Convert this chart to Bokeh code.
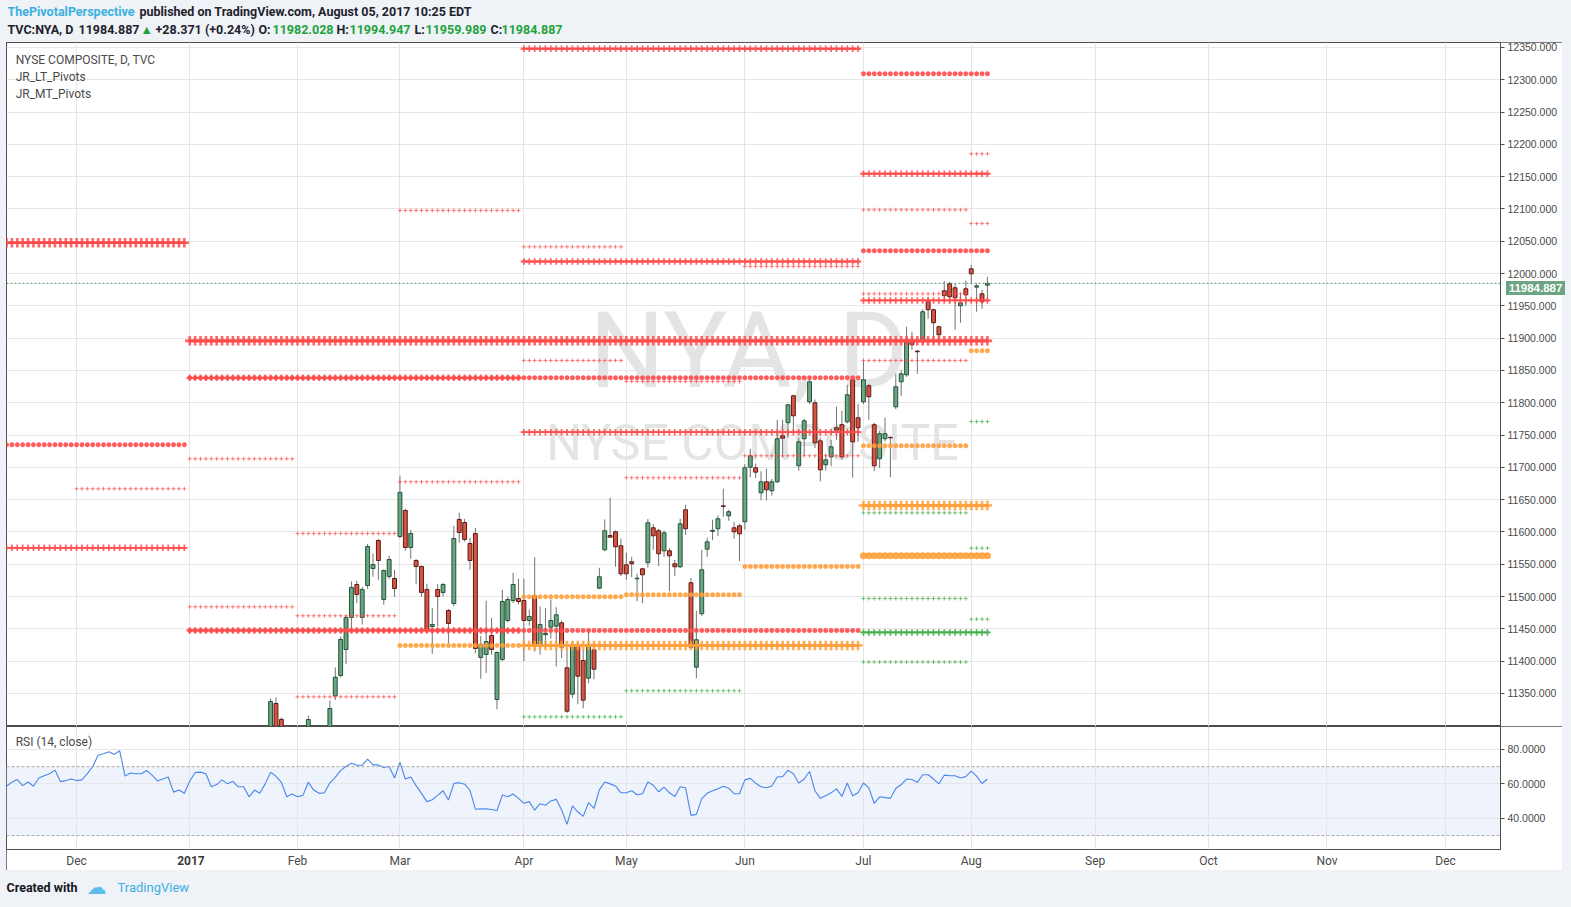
import numpy as np
from bokeh.plotting import figure
from bokeh.models import (Range1d, ColumnDataSource, FixedTicker, Grid, Label, Span,
                          BoxAnnotation, PrintfTickFormatter, Spacer, Div)
from bokeh.layouts import column, row
from bokeh.embed import file_html
from bokeh.resources import INLINE

# ---------------------------------------------------------------- data
month_ticks = [-21, 0, 20, 39, 62, 81, 103, 125, 145, 168, 189, 211, 233]
month_labels = ["Dec", "2017", "Feb", "Mar", "Apr", "May", "Jun", "Jul", "Aug",
                "Sep", "Oct", "Nov", "Dec"]
year_tick_label = "2017"
price_ticks = [11350 + 50 * k for k in range(21)]
rsi_ticks = [40, 60, 80]

# daily candles, bar index 0 = 2017-01-03
bar = [15, 16, 17, 22] + list(range(26, 149))
opens = [11290.0, 11334.5, 11309.8, 11280.0, 11285.0, 11346.4, 11377.9, 11418.1, 11467.7, 11518.7,
         11467.7, 11517.2, 11543.5, 11586.8, 11495.5, 11531.2, 11528.0, 11593.0, 11633.3, 11576.0,
         11555.9, 11546.6, 11511.0, 11453.7, 11511.0, 11506.4, 11478.5, 11489.3, 11619.4, 11614.7,
         11582.2, 11597.7, 11405.8, 11410.4, 11439.8, 11340.7, 11402.6, 11463.0, 11493.9, 11497.1,
         11494.0, 11463.0, 11501.7, 11425.9, 11441.0, 11452.6, 11454.2, 11459.4, 11389.8, 11348.9,
         11425.9, 11401.1, 11373.7, 11417.7, 11513.0, 11572.5, 11594.5, 11600.3, 11578.6, 11549.2,
         11553.9, 11527.5, 11543.0, 11552.4, 11606.5, 11602.0, 11570.9, 11570.9, 11550.8, 11546.2,
         11634.4, 11521.4, 11390.7, 11473.4, 11573.4, 11601.0, 11605.0, 11640.5, 11625.1, 11606.5,
         11609.6, 11615.8, 11700.3, 11699.4, 11660.7, 11677.7, 11663.8, 11677.7, 11748.9, 11769.1,
         11810.8, 11702.5, 11744.3, 11801.6, 11800.0, 11741.0, 11704.0, 11716.4, 11761.3, 11766.0,
         11770.6, 11835.6, 11776.8, 11801.6, 11826.4, 11766.0, 11713.3, 11744.3, 11746.5, 11793.8,
         11832.5, 11843.3, 11894.4, 11880.0, 11894.4, 11956.4, 11944.0, 11917.7, 11973.4, 11984.2,
         11978.0, 11950.2, 11976.5, 12007.4, 11979.0, 11968.7, 11982.028]
highs = [11342.3, 11343.8, 11312.9, 11316.0, 11339.0, 11390.3, 11438.0, 11470.0, 11523.4, 11524.4,
         11515.0, 11581.7, 11566.7, 11589.5, 11542.0, 11563.2, 11541.5, 11687.4, 11636.0, 11603.4,
         11558.0, 11548.0, 11520.0, 11482.6, 11519.8, 11521.3, 11481.0, 11609.6, 11629.9, 11620.4,
         11591.0, 11606.5, 11439.3, 11493.5, 11467.0, 11415.0, 11510.5, 11500.0, 11536.8, 11527.5,
         11528.0, 11480.0, 11561.0, 11484.7, 11482.0, 11495.5, 11483.6, 11463.0, 11420.1, 11429.4,
         11430.0, 11418.0, 11449.0, 11427.4, 11544.6, 11619.4, 11653.4, 11602.3, 11590.0, 11568.3,
         11561.6, 11535.3, 11544.6, 11620.0, 11612.0, 11605.0, 11602.0, 11575.0, 11557.0, 11620.4,
         11642.1, 11529.0, 11478.0, 11572.4, 11591.0, 11618.9, 11625.5, 11666.9, 11634.4, 11615.8,
         11612.7, 11705.0, 11728.8, 11706.0, 11694.1, 11697.8, 11682.0, 11773.7, 11773.7, 11798.4,
         11812.4, 11745.8, 11775.2, 11837.1, 11805.0, 11745.0, 11721.0, 11742.7, 11793.8, 11787.6,
         11827.8, 11839.6, 11798.4, 11865.0, 11829.4, 11769.1, 11756.7, 11776.8, 11747.4, 11844.9,
         11851.0, 11917.6, 11910.0, 11882.0, 11945.0, 11964.1, 11946.0, 11919.2, 11988.5, 11987.3,
         11984.2, 11968.7, 11989.3, 12013.6, 11985.0, 11974.9, 11994.947]
lows = [11280.0, 11275.0, 11270.0, 11270.0, 11275.0, 11340.0, 11375.0, 11395.4, 11444.4, 11490.0,
        11456.8, 11512.0, 11530.7, 11526.0, 11487.3, 11527.0, 11499.7, 11590.0, 11570.9, 11558.5,
        11518.9, 11499.7, 11444.0, 11411.4, 11453.7, 11500.0, 11427.0, 11485.0, 11583.4, 11585.0,
        11541.5, 11412.0, 11372.8, 11382.0, 11410.0, 11325.5, 11400.0, 11460.0, 11490.0, 11488.0,
        11400.0, 11455.0, 11415.0, 11409.9, 11420.0, 11435.0, 11391.8, 11404.7, 11320.0, 11342.7,
        11333.4, 11327.0, 11366.0, 11372.0, 11511.5, 11570.0, 11591.0, 11546.1, 11531.6, 11526.0,
        11530.0, 11492.9, 11489.8, 11545.0, 11572.4, 11547.0, 11561.6, 11508.4, 11531.6, 11544.0,
        11595.6, 11418.0, 11373.7, 11470.0, 11561.6, 11587.3, 11594.0, 11623.5, 11617.3, 11589.5,
        11554.8, 11603.4, 11684.8, 11683.3, 11649.2, 11648.8, 11656.0, 11676.0, 11715.8, 11745.8,
        11752.0, 11694.7, 11717.9, 11798.0, 11730.0, 11678.4, 11695.0, 11701.9, 11742.7, 11712.0,
        11768.0, 11684.0, 11739.6, 11798.0, 11773.7, 11694.1, 11698.8, 11740.0, 11684.8, 11790.0,
        11810.8, 11840.0, 11882.0, 11844.9, 11890.0, 11930.0, 11891.0, 11891.0, 11956.0, 11953.2,
        11913.0, 11923.8, 11950.0, 11984.0, 11941.0, 11945.4, 11959.989]
closes = [11337.6, 11285.0, 11280.0, 11309.8, 11326.8, 11375.2, 11433.6, 11467.7, 11514.1, 11503.3,
          11511.0, 11577.6, 11549.7, 11555.9, 11540.4, 11557.4, 11512.5, 11661.2, 11576.0, 11597.7,
          11546.6, 11506.4, 11447.6, 11456.8, 11500.2, 11518.7, 11458.4, 11589.9, 11599.2, 11588.4,
          11555.9, 11419.7, 11425.9, 11430.5, 11418.1, 11413.5, 11492.4, 11495.5, 11518.7, 11492.4,
          11463.0, 11469.2, 11422.8, 11456.8, 11443.0, 11463.0, 11471.8, 11421.7, 11322.6, 11425.9,
          11376.8, 11339.7, 11425.9, 11387.6, 11530.7, 11601.9, 11592.0, 11577.1, 11535.3, 11535.3,
          11550.8, 11528.5, 11533.8, 11614.3, 11594.1, 11566.3, 11598.8, 11563.2, 11546.2, 11612.7,
          11605.0, 11421.7, 11433.2, 11541.5, 11584.8, 11602.5, 11620.4, 11639.5, 11631.3, 11600.3,
          11597.2, 11699.4, 11718.0, 11692.6, 11677.7, 11665.3, 11677.7, 11744.3, 11745.2, 11796.9,
          11779.9, 11739.6, 11772.1, 11832.5, 11738.1, 11696.3, 11711.8, 11731.9, 11757.6, 11716.4,
          11812.4, 11739.6, 11761.3, 11835.6, 11809.3, 11702.5, 11752.1, 11752.1, 11745.8, 11824.8,
          11844.9, 11897.5, 11889.8, 11879.0, 11940.9, 11944.0, 11923.9, 11905.3, 11965.7, 11964.1,
          11962.5, 11954.8, 11967.2, 11999.7, 11981.0, 11956.4, 11984.887]

# RSI(14, close), bar -34 .. 148
rsi_bar = list(range(-34, 149))
rsi = [58.6, 61.0, 62.5, 59.0, 61.1, 58.6, 63.4, 64.7, 65.9, 68.0, 61.3, 61.9, 62.8, 61.9, 62.3,
       65.9, 70.1, 76.6, 77.5, 78.6, 77.1, 79.2, 64.5, 66.3, 65.9, 65.9, 67.8, 65.1, 61.7, 62.8,
       64.0, 55.2, 56.4, 54.5,
       61.7, 66.6, 66.8, 65.9, 58.3, 59.6, 62.3, 60.0, 61.5, 58.3, 58.3, 52.5, 56.4, 54.5, 60.0,
       66.8, 64.4, 60.9, 52.5, 54.1, 52.5, 53.3, 60.9, 56.4, 54.5, 54.8, 60.6, 63.8, 67.8, 70.1,
       72.0, 70.8, 70.8, 74.3, 71.0, 71.0, 69.5, 70.1, 63.4, 72.5, 62.8, 64.0, 59.0, 54.5, 49.7,
       50.8, 53.3, 56.0, 50.6, 60.2, 60.7, 59.8, 56.2, 45.3, 45.5, 45.5, 45.1, 44.5,
       53.5, 52.5, 54.1, 51.6, 48.7, 49.7, 44.7, 48.5, 47.6, 50.1, 51.0, 44.9, 36.5, 47.2, 43.8,
       41.1, 49.1, 45.7, 56.5, 61.1, 60.0, 58.8, 54.8, 54.8, 56.0, 53.7, 54.3, 61.1, 59.2, 55.4,
       58.1, 54.8, 52.7, 58.3, 57.7, 41.7, 42.3, 51.4, 54.5, 56.0, 57.1, 58.6, 57.5, 54.3, 54.3,
       62.3, 63.2, 60.4, 58.3, 57.7, 58.8, 64.0, 64.2, 68.0, 65.9, 60.4, 62.8, 67.2, 56.0, 51.6,
       53.1, 54.8, 57.1, 52.7, 60.5, 53.1, 54.8,
       60.5, 57.7, 48.7, 52.5, 52.0, 51.6, 57.3, 59.6, 62.8, 62.5, 60.9, 65.3, 65.3, 62.8, 60.0,
       65.1, 64.7, 64.7, 63.4, 64.2, 67.4, 64.5, 60.2, 62.8]

# pivot periods (first / last bar)
period_names = ["Y2016", "Y2017", "Q4-2016", "H1-2017", "Q1-2017", "Q2-2017", "Q3-2017",
                "Dec-2016", "Jan", "Feb", "Mar", "Apr", "May", "Jun", "Jul", "Aug"]
period_first = [-34, 0, -34, 0, 0, 62, 125, -21, 0, 20, 39, 62, 81, 103, 125, 145]
period_last = [-1, 148, -1, 124, 61, 124, 148, -1, 19, 38, 61, 80, 102, 124, 144, 148]

# pivot levels: period, level, side (R resist / P pivot / S support), plot weight
piv_period = ["Y2016", "Q4-2016", "Q4-2016", "Dec-2016", "Y2017", "Q1-2017", "Q1-2017",
              "H1-2017", "H1-2017", "Q2-2017", "Q2-2017", "Q2-2017", "Q2-2017",
              "Q3-2017", "Q3-2017", "Q3-2017", "Q3-2017", "Q3-2017", "Q3-2017", "Q3-2017",
              "Jan", "Jan", "Feb", "Feb", "Feb", "Mar", "Mar", "Mar",
              "Apr", "Apr", "Apr", "Apr", "May", "May", "May", "May",
              "Jun", "Jun", "Jun", "Jun", "Jul", "Jul", "Jul", "Jul", "Jul", "Jul", "Jul",
              "Aug", "Aug", "Aug", "Aug", "Aug", "Aug"]
piv_level = [12047.7, 11735.0, 11575.5, 11666.9, 11895.9, 11838.7, 11447.6,
             11838.7, 11447.6, 12348.0, 12018.7, 11754.5, 11424.3,
             12309.3, 12154.5, 12035.3, 11958.4, 11641.0, 11563.2, 11444.5,
             11713.3, 11484.2, 11597.7, 11470.3, 11344.9, 12097.7, 11677.7, 11424.3,
             12041.5, 11865.5, 11499.7, 11313.9, 11833.0, 11683.9, 11502.8, 11354.2,
             12011.0, 11718.0, 11546.6, 11424.3, 12098.8, 11968.7, 11865.5, 11733.4, 11629.7,
             11497.0, 11398.7,
             12185.4, 12077.4, 11880.5, 11770.9, 11575.0, 11465.0]
piv_side = ["R", "R", "R", "R", "R", "R", "R",
            "R", "R", "R", "R", "R", "P",
            "R", "R", "R", "R", "P", "P", "S",
            "R", "R", "R", "R", "R", "R", "R", "P",
            "R", "R", "P", "S", "R", "R", "P", "S",
            "R", "R", "P", "S", "R", "R", "R", "P", "S", "S", "S",
            "R", "R", "P", "S", "S", "S"]
piv_weight = ["heavy", "dots", "medium", "light", "heavy", "medium", "medium",
              "dots", "dots", "medium", "medium", "medium", "heavy",
              "dots", "medium", "dots", "medium", "heavy", "bigdots", "medium",
              "light", "light", "light", "light", "light", "light", "light", "dots",
              "light", "light", "dots", "light", "light", "light", "dots", "light",
              "light", "light", "dots", "light", "light", "light", "light", "dots", "light",
              "light", "light",
              "light", "light", "dots", "light", "light", "light"]

last_price = 11984.887

# ---------------------------------------------------------------- style
BG = "#eff2f6"
BOX = "#4f4f4f"
GRID = "#e6e6e6"
UP_FILL, UP_LINE = "#6ba583", "#225437"
DN_FILL, DN_LINE = "#d75442", "#5b1a13"
WICK = "#737375"
SIDE_COLOR = {"R": "#ff4a4a", "P": "#ff9f3a", "S": "#3fae48"}
WEIGHT = {
    "light": dict(marker="cross", size=4, lw=1.0, line=0, alpha=0.7),
    "dots": dict(marker="circle", size=4.4, lw=0.5, line=0, alpha=0.9),
    "bigdots": dict(marker="circle", size=6.6, lw=0.5, line=0, alpha=0.9),
    "medium": dict(marker="cross", size=6.5, lw=1.8, line=1.8, alpha=0.85),
    "heavy": dict(marker="cross", size=9.5, lw=2.6, line=2.6, alpha=0.85),
}
FONT = "Roboto"
AXFONT = "Liberation Sans"

x_range = Range1d(-34.0, 243.2)

# ---------------------------------------------------------------- header
header = figure(width=1571, height=42, x_range=Range1d(0, 1571), y_range=Range1d(42, 0),
                toolbar_location=None, output_backend="svg", x_axis_location=None,
                y_axis_location=None, min_border=0, background_fill_color=BG,
                border_fill_color=BG, outline_line_color=None)
header.grid.visible = False


def hlabel(fig, x, y, text, color="#1e222d", size="12.5px", style="bold", font=FONT):
    fig.add_layout(Label(x=x, y=y, text=text, text_color=color, text_font_size=size,
                         text_font_style=style, text_font=font, text_baseline="middle",
                         text_align="left"))


hlabel(header, 7, 11, "ThePivotalPerspective", color="#3bb0e0")
hlabel(header, 139, 11, "published on TradingView.com, August 05, 2017 10:25 EDT")
GREEN_TXT = "#21a33b"
for x, t, c in [(7, "TVC:NYA, D", "#1e222d"), (78, "11984.887", "#1e222d"),
                (140, "\u25b2", GREEN_TXT), (155, "+28.371 (+0.24%)", "#1e222d"),
                (258, "O:", "#1e222d"), (272, "11982.028", GREEN_TXT),
                (336, "H:", "#1e222d"), (349, "11994.947", GREEN_TXT),
                (414, "L:", "#1e222d"), (425, "11959.989", GREEN_TXT),
                (490, "C:", "#1e222d"), (501, "11984.887", GREEN_TXT)]:
    hlabel(header, x, 29, t, color=c)

# ---------------------------------------------------------------- price panel
p = figure(width=1556, height=684, x_range=x_range, y_range=Range1d(11298.9, 12357.7),
           toolbar_location=None, output_backend="svg", x_axis_location=None,
           y_axis_location="right", min_border_left=0, min_border_top=0,
           min_border_bottom=0, min_border_right=62, background_fill_color="white",
           border_fill_color="white", outline_line_color=BOX,
           styles={"outline": "1px solid " + BOX, "outline-offset": "-1px"})
p.grid.visible = False
p.add_layout(Grid(dimension=0, ticker=FixedTicker(ticks=month_ticks), grid_line_color=GRID))
p.add_layout(Grid(dimension=1, ticker=FixedTicker(ticks=price_ticks), grid_line_color=GRID))

ax = p.yaxis[0]
ax.ticker = FixedTicker(ticks=price_ticks)
ax.formatter = PrintfTickFormatter(format="%.3f")
ax.major_label_text_font = AXFONT
ax.major_label_text_font_size = "10.5px"
ax.major_label_text_color = "#4a4a4a"
ax.major_tick_out = 4
ax.major_tick_in = 0
ax.minor_tick_line_color = None
ax.major_tick_line_color = BOX
ax.axis_line_color = BOX
ax.major_label_standoff = 3

# watermark
p.add_layout(Label(x=103.7, y=11880.9, text="NYA, D", text_font=FONT, text_font_size="106px",
                   text_color="#e4e4e4", text_align="center", text_baseline="middle",
                   level="underlay"))
p.add_layout(Label(x=104.4, y=11738.5, text="NYSE COMPOSITE", text_font=FONT,
                   text_font_size="50px", text_color="#e4e4e4", text_align="center",
                   text_baseline="middle", level="underlay"))

# candles
o = np.array(opens); h = np.array(highs); l = np.array(lows); c = np.array(closes)
up = c >= o
src = ColumnDataSource(dict(x=bar, h=h, l=l, top=np.maximum(o, c), bottom=np.minimum(o, c),
                            fill=np.where(up, UP_FILL, DN_FILL),
                            line=np.where(up, UP_LINE, DN_LINE)))
p.segment(x0="x", y0="h", x1="x", y1="l", source=src, line_color=WICK, line_width=1)
p.vbar(x="x", width=0.72, top="top", bottom="bottom", source=src, fill_color="fill",
       line_color="line", line_width=1)

# pivots
pfirst = dict(zip(period_names, period_first))
plast = dict(zip(period_names, period_last))
for wname in ["light", "dots", "bigdots", "medium", "heavy"]:
    st = WEIGHT[wname]
    xs, ys, cs = [], [], []
    sx0, sx1, sy, sc = [], [], [], []
    for per, lev, side, w in zip(piv_period, piv_level, piv_side, piv_weight):
        if w != wname:
            continue
        a, b = pfirst[per], plast[per]
        for k in range(a, b + 1):
            xs.append(k); ys.append(lev); cs.append(SIDE_COLOR[side])
        sx0.append(a - 0.3); sx1.append(b + 0.3); sy.append(lev); sc.append(SIDE_COLOR[side])
    if not xs:
        continue
    if st["line"] > 0:
        p.segment(x0=sx0, y0=sy, x1=sx1, y1=sy, line_color=sc, line_width=st["line"],
                  line_alpha=st["alpha"])
    s = ColumnDataSource(dict(x=xs, y=ys, c=cs))
    if st["marker"] == "cross":
        p.scatter("x", "y", source=s, marker="cross", size=st["size"], line_color="c",
                  line_width=st["lw"], line_alpha=st["alpha"])
    else:
        p.scatter("x", "y", source=s, marker="circle", size=st["size"], fill_color="c",
                  line_color="c", fill_alpha=st["alpha"], line_alpha=st["alpha"],
                  line_width=st["lw"])

# last price line
p.add_layout(Span(location=last_price, dimension="width", line_color="#4e8f6e",
                  line_dash="2 2", line_width=1))

# legend texts
for yy, t in [(12329.9, "NYSE COMPOSITE, D, TVC"), (12303.6, "JR_LT_Pivots"),
              (12277.3, "JR_MT_Pivots")]:
    p.add_layout(Label(x=-32.3, y=yy, text=t, text_font=FONT, text_font_size="12px",
                       text_color="#4a4a4a", text_baseline="middle", text_align="left"))

# ---------------------------------------------------------------- RSI panel
r = figure(width=1556, height=144, x_range=x_range, y_range=Range1d(21.9, 93.3),
           toolbar_location=None, output_backend="svg", x_axis_location="below",
           y_axis_location="right", min_border_left=0, min_border_top=0,
           min_border_bottom=19, min_border_right=62, background_fill_color="white",
           border_fill_color="white", outline_line_color=BOX,
           styles={"outline": "1px solid " + BOX, "outline-offset": "-1px"})
r.grid.visible = False
r.add_layout(BoxAnnotation(bottom=30, top=70, fill_color="#e9effa", fill_alpha=0.75,
                           line_color=None, level="underlay"))
r.add_layout(Grid(dimension=0, ticker=FixedTicker(ticks=month_ticks), grid_line_color=GRID))
r.add_layout(Grid(dimension=1, ticker=FixedTicker(ticks=rsi_ticks), grid_line_color=GRID))
for lv in (70, 30):
    r.add_layout(Span(location=lv, dimension="width", line_color="#a9a9a9",
                      line_dash="3 2", line_width=1))
r.line(rsi_bar, rsi, line_color="#4a86ec", line_width=1.1)

ry = r.yaxis[0]
ry.ticker = FixedTicker(ticks=rsi_ticks)
ry.formatter = PrintfTickFormatter(format="%.4f")
ry.major_label_text_font = AXFONT
ry.major_label_text_font_size = "10.5px"
ry.major_label_text_color = "#4a4a4a"
ry.major_tick_out = 4
ry.major_tick_in = 0
ry.minor_tick_line_color = None
ry.major_tick_line_color = BOX
ry.axis_line_color = BOX
ry.major_label_standoff = 3

rx = r.xaxis[0]
rx.ticker = FixedTicker(ticks=month_ticks)
# the year tick is drawn in bold separately (below)
rx.major_label_overrides = {t: ("" if s == year_tick_label else s)
                            for t, s in zip(month_ticks, month_labels)}
rx.major_label_text_font = FONT
rx.major_label_text_font_size = "12px"
rx.major_label_text_color = "#4a4a4a"
rx.axis_line_color = None
rx.major_tick_line_color = None
rx.minor_tick_line_color = None
rx.major_tick_out = 0
rx.major_tick_in = 0
rx.major_label_standoff = 4

r.add_layout(Label(x=-32.3, y=84.2, text="RSI (14, close)", text_font=FONT,
                   text_font_size="12px", text_color="#4a4a4a", text_baseline="middle",
                   text_align="left"))

# ---------------------------------------------------------------- footer
footer = figure(width=1571, height=37, x_range=Range1d(0, 1571), y_range=Range1d(907, 870),
                toolbar_location=None, output_backend="svg", x_axis_location=None,
                y_axis_location=None, min_border=0, background_fill_color=BG,
                border_fill_color=BG, outline_line_color=None)
footer.grid.visible = False
hlabel(footer, 6, 887, "Created with", color="#131722", size="12.5px")
hlabel(footer, 86, 886, "\u2601", color="#5bbde8", size="20px", style="normal", font="DejaVu Sans")
hlabel(footer, 117, 887, "TradingView", color="#3bb0e0", size="13px", style="normal")

# last price tag on the price scale
price_tag = Div(text="%.3f" % last_price, width=0, height=0,
                styles={"position": "absolute", "left": "1501px", "top": "276px",
                        "width": "59px", "height": "14px", "background-color": "#6ba583",
                        "color": "white", "font-family": "'Liberation Sans', Arial, sans-serif",
                        "font-size": "11.5px", "font-weight": "bold", "line-height": "14px",
                        "text-align": "center", "z-index": "10", "overflow": "hidden"})
# bold year label on the time scale
year_tag = Div(text=year_tick_label, width=0, height=0,
               styles={"position": "absolute", "left": "166px", "top": "847px",
                       "width": "40px", "height": "18px", "color": "#3a3a3a",
                       "font-family": "Roboto, sans-serif", "font-size": "12px",
                       "font-weight": "bold", "line-height": "18px", "text-align": "center",
                       "z-index": "10", "overflow": "hidden"})

layout = column(
    header,
    row(Spacer(width=6, height=684), p, Spacer(width=9, height=684)),
    row(Spacer(width=6, height=144), r, Spacer(width=9, height=144)),
    footer,
    price_tag,
    year_tag,
    styles={"background-color": BG},
)

open("out.html", "w").write(file_html(layout, INLINE))
